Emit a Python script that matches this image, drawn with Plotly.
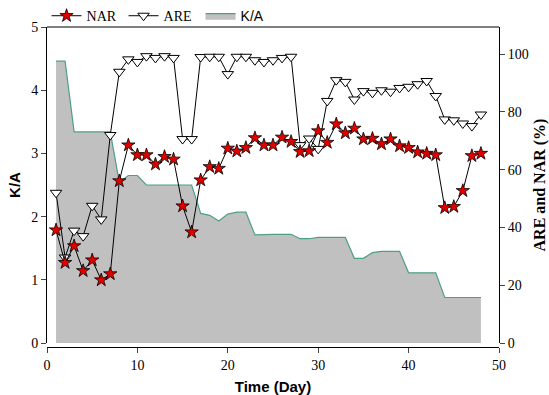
import plotly.graph_objects as go

days = list(range(1, 49))

ka = [4.46, 4.46, 3.34, 3.34, 3.34, 3.34, 3.34, 2.54, 2.65, 2.65,
      2.50, 2.50, 2.50, 2.50, 2.50, 2.50, 2.05, 2.02, 1.93, 2.04,
      2.07, 2.07, 1.71, 1.72, 1.72, 1.72, 1.72, 1.65, 1.65, 1.67,
      1.67, 1.67, 1.67, 1.34, 1.34, 1.43, 1.45, 1.45, 1.45, 1.11,
      1.11, 1.11, 1.11, 0.72, 0.72, 0.72, 0.72, 0.72]

nar = [39.1, 27.8, 33.6, 25.0, 28.7, 21.8, 23.9, 56.1, 68.5, 65.1,
       65.1, 61.9, 64.5, 63.6, 47.4, 38.4, 56.4, 61.0, 60.4, 67.4,
       66.4, 67.6, 71.0, 68.5, 68.5, 71.2, 69.7, 66.2, 66.5, 73.4,
       69.4, 75.8, 72.7, 74.3, 70.6, 70.8, 68.9, 70.6, 68.2, 67.6,
       66.1, 65.6, 65.1, 46.8, 47.2, 52.7, 64.8, 65.6]

are = [52.0, 29.6, 38.9, 37.0, 47.5, 42.8, 72.0, 93.9, 98.2, 97.3,
       99.3, 98.7, 99.3, 98.7, 70.6, 70.6, 99.0, 99.1, 99.1, 93.1,
       99.1, 99.1, 97.9, 97.3, 97.9, 98.7, 99.1, 68.5, 70.8, 67.2,
       83.8, 91.0, 90.4, 84.3, 87.2, 86.6, 87.5, 87.0, 88.3, 88.7,
       89.6, 90.7, 85.5, 77.4, 77.1, 76.0, 75.1, 79.1]

x_ticks = [0, 10, 20, 30, 40, 50]
y_ticks = [0, 1, 2, 3, 4, 5]
y2_ticks = [0, 20, 40, 60, 80, 100]

SERIF = "Liberation Serif, Times New Roman, serif"
SANS = "Liberation Sans, Arial, sans-serif"

fig = go.Figure()

fig.add_trace(go.Scatter(
    x=days, y=ka, name="<span style='font-family:Liberation Sans'>K/A</span>",
    mode="lines", fill="tozeroy", fillcolor="#c0c0c0",
    line=dict(color="#4e9f88", width=1.2), yaxis="y", legendrank=3))

fig.add_trace(go.Scatter(
    x=days, y=are, name="ARE", mode="lines+markers",
    line=dict(color="black", width=1),
    marker=dict(symbol="triangle-down", size=10, color="white",
                line=dict(color="black", width=1)),
    yaxis="y2", legendrank=2))

fig.add_trace(go.Scatter(
    x=days, y=nar, name="NAR", mode="lines+markers",
    line=dict(color="black", width=1),
    marker=dict(symbol="star", size=10, color="#e00000",
                line=dict(color="black", width=0.8)),
    yaxis="y2", legendrank=1))

fig.update_layout(
    width=549, height=395,
    margin=dict(l=47, r=50, t=27, b=48, autoexpand=False),
    paper_bgcolor="white", plot_bgcolor="white",
    showlegend=True,
    legend=dict(orientation="h", x=-0.001, y=1.034, xanchor="left", yanchor="middle",
                font=dict(family=SERIF, size=14, color="black"),
                entrywidth=32, entrywidthmode="pixels",
                bgcolor="rgba(0,0,0,0)", itemwidth=30),
    xaxis=dict(range=[0, 50], tickvals=x_ticks, ticks="outside", ticklen=5,
               showline=True, linecolor="black", linewidth=1, showgrid=False,
               zeroline=False, anchor="free", position=0, automargin=False,
               tickfont=dict(family=SERIF, size=14, color="black"),
               title=dict(text="<b>Time (Day)</b>", font=dict(family=SANS, size=15, color="black"),
                          standoff=9)),
    yaxis=dict(range=[0, 5], tickvals=y_ticks, ticks="outside", ticklen=5,
               domain=[0.0125, 1], automargin=False,
               showline=True, linecolor="black", linewidth=1, showgrid=False,
               zeroline=False,
               tickfont=dict(family=SERIF, size=14, color="black"),
               title=dict(text="<b>K/A</b>", font=dict(family=SANS, size=15, color="black"),
                          standoff=6)),
    yaxis2=dict(range=[0, 109.4], tickvals=y2_ticks, ticks="outside", ticklen=5,
                overlaying="y", side="right", anchor="x", automargin=False,
                showline=True, linecolor="black", linewidth=1, showgrid=False,
                zeroline=False,
                tickfont=dict(family=SERIF, size=14, color="black"),
                title=dict(text="<b>ARE and NAR (%)</b>", font=dict(family=SERIF, size=16, color="black"),
                           standoff=6)),
    shapes=[dict(type="line", xref="paper", yref="paper", x0=0, x1=1, y0=1, y1=1,
                 line=dict(color="black", width=1))],
)

fig.update_xaxes(tickprefix="<b>", ticksuffix="</b>")
fig.update_yaxes(tickprefix="<b>", ticksuffix="</b>")

fig.write_html("out.html")
